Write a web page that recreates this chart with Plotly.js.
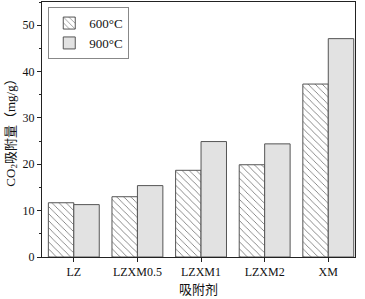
<!DOCTYPE html>
<html><head><meta charset="utf-8">
<script src="https://cdn.plot.ly/plotly-3.0.1.min.js"></script>
<style>body{margin:0;background:#fff}</style>
</head><body><div id="chart" style="width:365px;height:299px"></div>
<script>
const categories = ["LZ", "LZXM0.5", "LZXM1", "LZXM2", "XM"];
const series600 = [11.7, 13.0, 18.7, 19.9, 37.3];
const series900 = [11.3, 15.4, 24.9, 24.4, 47.1];
const seriesNames = ["600°C", "900°C"];
const yTicks = [0, 10, 20, 30, 40, 50];

const font = {family: "Liberation Serif, Times New Roman, serif", color: "#111", size: 12};
const traces = [
  {type: "bar", x: categories, y: series600, name: seriesNames[0],
   marker: {color: "white", line: {color: "#555", width: 1},
            pattern: {shape: "\\", fgcolor: "#666", bgcolor: "white", size: 5, solidity: 0.15}}},
  {type: "bar", x: categories, y: series900, name: seriesNames[1],
   marker: {color: "#e2e2e2", line: {color: "#555", width: 1}}}
];
const layout = {
  width: 365, height: 299,
  margin: {l: 42, r: 10, t: 2, b: 42},
  paper_bgcolor: "white", plot_bgcolor: "white",
  font: font,
  barmode: "group", bargap: 0.2, bargroupgap: 0,
  showlegend: true,
  legend: {x: 0.02, y: 0.98, xanchor: "left", yanchor: "top",
           bordercolor: "#888", borderwidth: 1, bgcolor: "white",
           font: {family: font.family, size: 13, color: "#111"},
           tracegroupgap: 0},
  xaxis: {
    range: [-0.5, 4.42], showline: true, linecolor: "#222", linewidth: 1,
    mirror: true, ticks: "outside", ticklen: 4, tickcolor: "#222",
    showgrid: false, zeroline: false,
    tickfont: {family: font.family, size: 12, color: "#111"},
    title: {text: "吸附剂", font: {family: "Noto Sans CJK SC, serif", size: 13, color: "#111"}, standoff: 5}
  },
  yaxis: {
    range: [0, 55], showline: true, linecolor: "#222", linewidth: 1,
    mirror: true, ticks: "outside", ticklen: 4, tickcolor: "#222",
    tickvals: yTicks, showgrid: false, zeroline: false,
    minor: {dtick: 5, ticks: "outside", ticklen: 2, tickcolor: "#222", showgrid: false},
    tickfont: {family: font.family, size: 12, color: "#111"},
    title: {text: "CO<sub>2</sub>吸附量（mg/g）", font: {family: "Liberation Serif, Noto Sans CJK SC, serif", size: 13, color: "#111"}, standoff: 4}
  }
};
Plotly.newPlot("chart", traces, layout, {displayModeBar: false, staticPlot: true});
</script></body></html>
